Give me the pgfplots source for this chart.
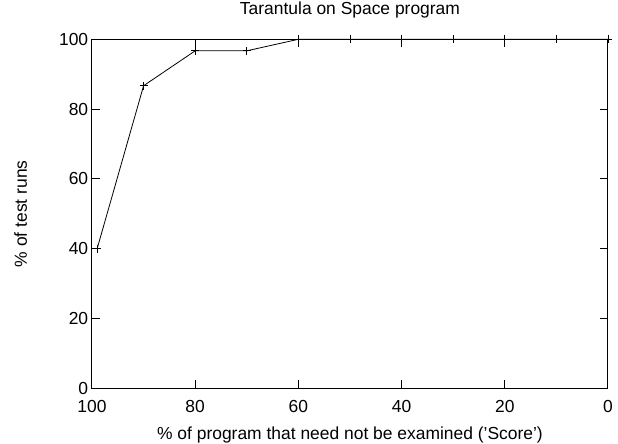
\documentclass[border=0pt]{standalone}
\usepackage{fontspec}
\setmainfont{Liberation Sans}
\usepackage{pgfplots}
\pgfplotsset{compat=1.18}

\begin{document}
\begin{tikzpicture}
\begin{axis}[
    name=ax,
    scale only axis,
    width=516bp, height=349bp,
    font=\fontsize{17.5}{21}\selectfont,
    /pgf/number format/assume math mode=true,
    x dir=reverse,
    xmin=0, xmax=100, ymin=0, ymax=100,
    xtick={0,20,...,100}, ytick={0,20,...,100},
    tick align=inside,
    major tick length=8bp,
    line width=1bp,
    tick style={black, line width=1bp},
    clip=false,
    title={Tarantula on Space program},
    title style={at={(0.5,1.054)}, anchor=base, inner sep=0pt},
    xlabel={\% of program that need not be examined ('Score')},
    xlabel style={at={(0.5,-0.147)}, anchor=base, inner sep=0pt},
    ylabel={\% of test runs},
    ylabel style={at={(-0.126,0.5)}, anchor=base, inner sep=0pt},
    xticklabel style={anchor=base, yshift=-24bp},
    ]
    \addplot[black, line width=0.8bp, mark=+, mark size=4bp,
             mark options={solid, line width=0.8bp}] coordinates {
        (99, 40) (90, 86.7) (80, 96.7) (70, 96.7) (60, 100) (50, 100)
        (40, 100) (30, 100) (20, 100) (10, 100) (0, 100)
    };
\end{axis}
\path[use as bounding box] (ax.south west) ++(-92bp,-55.7bp) rectangle ++(618bp,444bp);
\end{tikzpicture}
\end{document}
